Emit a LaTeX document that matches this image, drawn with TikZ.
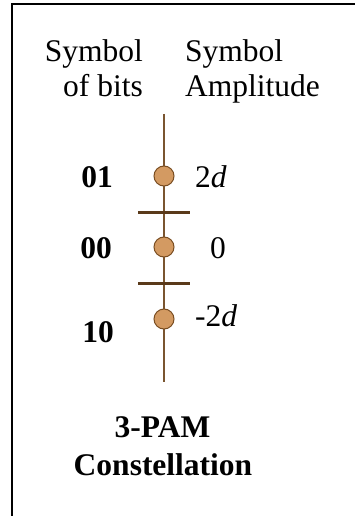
\documentclass[tikz,border=0pt]{standalone}
\usepackage{fontspec}
\setmainfont{Liberation Serif}
\definecolor{axisbrown}{HTML}{7A5530}
\definecolor{tickbrown}{HTML}{5A3A1A}
\definecolor{dotfill}{HTML}{D39A62}
\definecolor{dotdraw}{HTML}{7A4E22}
\begin{document}
\begin{tikzpicture}[x=1pt,y=-1pt,
  txt/.style={inner sep=0pt,font=\fontsize{31.5}{35}\selectfont},
  bits/.style={txt,font=\fontsize{31.5}{35}\selectfont\bfseries,anchor=base east},
  amp/.style={txt,anchor=base west},
  dot/.style={circle,draw=dotdraw,fill=dotfill,line width=1pt,minimum size=20pt,inner sep=0pt},
  axis/.style={draw=axisbrown,line width=1.5pt},
  tickline/.style={draw=tickbrown,line width=3pt},
  frame/.style={draw=black,line width=2pt}]
\useasboundingbox (0,0) rectangle (355,516);
% frame
\coordinate (fbl) at (11.5,517);
\coordinate (ftl) at (11.5,4.5);
\coordinate (ftr) at (356,4.5);
\draw[frame] (fbl) -- (ftl) -- (ftr);
% headers
\node[txt,anchor=base east] (h1) at (143,62) {Symbol};
\node[txt,anchor=base east] (h2) at (143,97) {of bits};
\node[txt,anchor=base west] (h3) at (185,62) {Symbol};
\node[txt,anchor=base west] (h4) at (185,97) {Amplitude};
% axis
\coordinate (top) at (164,114);
\coordinate (bot) at (164,382);
\draw[axis] (top) -- (bot);
% thresholds
\coordinate (t1l) at (138,212);
\coordinate (t1r) at (190,212);
\coordinate (t2l) at (138,283);
\coordinate (t2r) at (190,283);
\draw[tickline] (t1l) -- (t1r);
\draw[tickline] (t2l) -- (t2r);
% points
\node[dot] (p1) at (164,176) {};
\node[dot] (p2) at (164,247) {};
\node[dot] (p3) at (164,319) {};
% bit labels
\node[bits] (b1) at (113,187) {01};
\node[bits] (b2) at (112,258) {00};
\node[bits] (b3) at (114,342) {10};
% amplitudes
\node[amp] (a1) at (195,187) {2\textit{d}};
\node[amp] (a2) at (210,258) {0};
\node[amp] (a3) at (195,326) {-2\textit{d}};
% title
\node[txt,font=\fontsize{31.5}{35}\selectfont\bfseries,anchor=base] (t1) at (162.5,437) {3-PAM};
\node[txt,font=\fontsize{31.5}{35}\selectfont\bfseries,anchor=base] (t2) at (163,475) {Constellation};
\end{tikzpicture}
\end{document}
